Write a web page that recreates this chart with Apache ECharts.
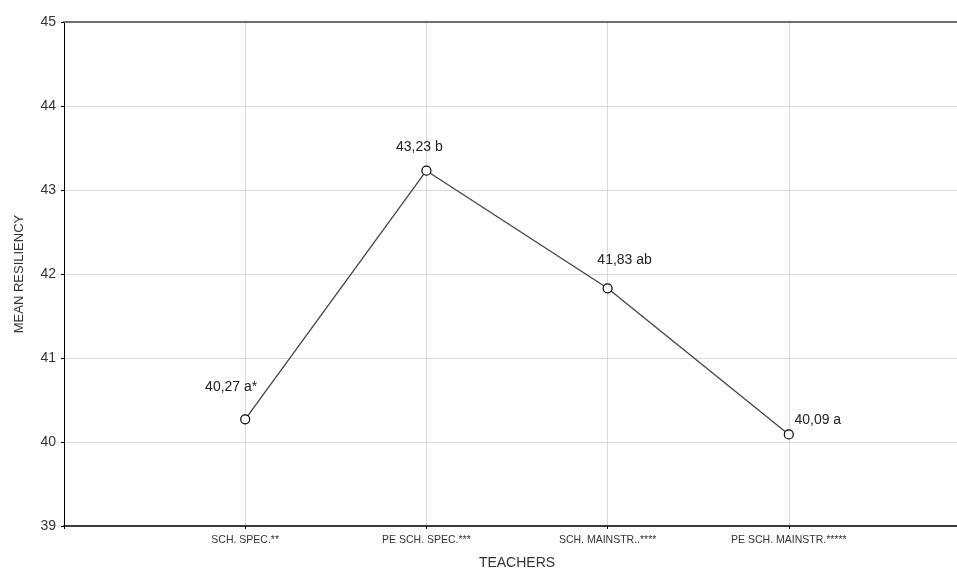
<!DOCTYPE html>
<html>
<head>
<meta charset="utf-8">
<script src="https://cdn.jsdelivr.net/npm/echarts@6/dist/echarts.min.js"></script>
<style>html,body{margin:0;padding:0;background:#fff}#c{width:957px;height:568px}</style>
</head>
<body>
<div id="c"></div>
<script>
var categories = ['SCH. SPEC.**', 'PE SCH. SPEC.***', 'SCH. MAINSTR..****', 'PE SCH. MAINSTR.*****'];
var means = [40.27, 43.23, 41.83, 40.09];
var groupLetters = ['a*', 'b', 'ab', 'a'];
var yTicks = [39, 40, 41, 42, 43, 44, 45];
var labelOffsets = [[-14, -32], [-7, -24], [17, -28], [29, -14]];

var data = means.map(function (v, i) {
  return {
    value: [i + 1, v],
    label: {
      formatter: v.toFixed(2).replace('.', ',') + ' ' + groupLetters[i],
      offset: labelOffsets[i]
    }
  };
});

var chart = echarts.init(document.getElementById('c'));
chart.setOption({
  animation: false,
  backgroundColor: '#fff',
  textStyle: { fontFamily: 'Liberation Sans, Arial, sans-serif' },
  grid: { left: 64, top: 22, width: 906, height: 504, containLabel: false, outerBoundsMode: 'none' },
  xAxis: [{
    type: 'value',
    min: 0, max: categories.length + 1, interval: 1,
    name: 'TEACHERS',
    nameLocation: 'middle',
    nameGap: 30,
    nameTextStyle: { fontSize: 14, color: '#333', fontFamily: 'Liberation Sans, Arial, sans-serif' },
    axisLine: { show: true, onZero: false, lineStyle: { color: '#000', width: 1.5 } },
    axisTick: { show: true, length: 3, lineStyle: { color: '#000' } },
    axisLabel: {
      margin: 9, fontSize: 10.5, color: '#333',
      formatter: function (v) { return categories[v - 1] || ''; }
    },
    splitLine: { show: true, lineStyle: { color: '#d9d9d9', width: 1 } }
  }, {
    type: 'value', position: 'top',
    min: 0, max: categories.length + 1,
    axisLine: { show: true, lineStyle: { color: '#6e6e6e', width: 2 } },
    axisTick: { show: false }, axisLabel: { show: false }, splitLine: { show: false }
  }],
  yAxis: {
    type: 'value',
    min: yTicks[0], max: yTicks[yTicks.length - 1], interval: 1,
    name: 'MEAN RESILIENCY',
    nameLocation: 'middle',
    nameGap: 38,
    nameTextStyle: { fontSize: 13, color: '#333', fontFamily: 'Liberation Sans, Arial, sans-serif' },
    axisLine: { show: true, lineStyle: { color: '#000', width: 1 } },
    axisTick: { show: true, length: 3, lineStyle: { color: '#000' } },
    axisLabel: { margin: 8, fontSize: 14, color: '#333' },
    splitLine: { show: true, lineStyle: { color: '#d9d9d9', width: 1 } }
  },
  series: [{
    type: 'line',
    xAxisIndex: 0,
    data: data,
    symbol: 'circle',
    symbolSize: 9,
    itemStyle: { color: '#fff', borderColor: '#000', borderWidth: 1.2 },
    lineStyle: { color: '#444', width: 1.3 },
    label: {
      show: true, position: 'inside', fontSize: 14, color: '#222',
      fontFamily: 'Liberation Sans, Arial, sans-serif'
    },
    z: 5
  }]
});
</script>
</body>
</html>
